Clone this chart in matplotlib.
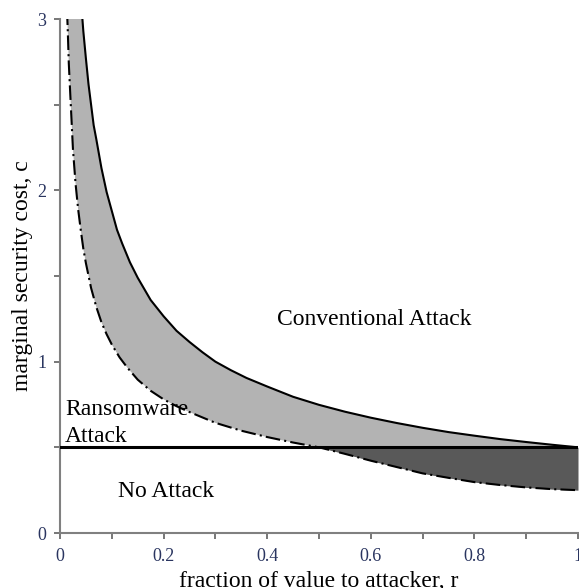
import numpy as np
import matplotlib
matplotlib.use("Agg")
import matplotlib.pyplot as plt
from matplotlib.ticker import MultipleLocator

plt.rcParams['font.family'] = ['Liberation Serif', 'DejaVu Serif']

# upper boundary (solid): conventional attack threshold
upper_r = [0.040, 0.045, 0.05, 0.055, 0.06, 0.065, 0.07, 0.08, 0.09, 0.10, 0.11, 0.12,
           0.135, 0.15, 0.175, 0.20, 0.225, 0.25, 0.275, 0.30, 0.33, 0.36, 0.40,
           0.45, 0.50, 0.55, 0.60, 0.65, 0.70, 0.75, 0.80, 0.85, 0.90, 0.95, 1.00]
upper_c = [3.13, 2.93, 2.77, 2.62, 2.50, 2.38, 2.30, 2.13, 1.99, 1.88, 1.77, 1.69,
           1.58, 1.49, 1.36, 1.265, 1.18, 1.115, 1.055, 1.00, 0.95, 0.905, 0.855,
           0.795, 0.748, 0.708, 0.673, 0.642, 0.614, 0.589, 0.568, 0.548, 0.531, 0.515, 0.50]

# lower boundary (dash-dot): ransomware threshold
lower_r = [0.0135, 0.0148, 0.017, 0.02, 0.025, 0.03, 0.035, 0.04, 0.045, 0.05, 0.06,
           0.07, 0.08, 0.09, 0.10, 0.115, 0.13, 0.15, 0.175, 0.20, 0.225, 0.25, 0.30,
           0.35, 0.40, 0.45, 0.50, 0.55, 0.60, 0.65, 0.70, 0.75, 0.80, 0.85, 0.90,
           0.95, 1.00]
lower_c = [3.05, 2.95, 2.74, 2.55, 2.24, 2.04, 1.89, 1.77, 1.66, 1.575, 1.43,
           1.32, 1.23, 1.16, 1.10, 1.025, 0.965, 0.895, 0.83, 0.78, 0.74, 0.706, 0.643,
           0.597, 0.56, 0.528, 0.50, 0.462, 0.422, 0.385, 0.348, 0.322, 0.297, 0.280, 0.266,
           0.256, 0.25]

no_attack_level = 0.5

fig = plt.figure(figsize=(5.79, 5.88), dpi=100)
ax = fig.add_axes([60 / 579, 55 / 588, 518 / 579, 514 / 588])

# light band between the two curves
poly_r = upper_r + lower_r[::-1]
poly_c = upper_c + lower_c[::-1]
ax.fill(poly_r, poly_c, color='#b3b3b3', lw=0, zorder=1)

# dark band below the no-attack line
lr = np.array(lower_r)
lc = np.array(lower_c)
ax.fill_between(lr, lc, no_attack_level, where=lc < no_attack_level,
                interpolate=True, color='#595959', lw=0, zorder=2)

ax.plot(upper_r, upper_c, color='black', lw=1.5, zorder=3)
ax.plot(lower_r, lower_c, color='black', lw=1.5, linestyle=(0, (7, 2, 1, 2)), zorder=3)
ax.plot([0, 1], [no_attack_level, no_attack_level], color='black', lw=2.2, zorder=4)

fs = 17
ax.text(0.419, 1.214, 'Conventional Attack', fontsize=fs, ha='left', va='baseline')
ax.text(0.0097, 0.689, 'Ransomware', fontsize=fs, ha='left', va='baseline')
ax.text(0.0097, 0.531, 'Attack', fontsize=fs, ha='left', va='baseline')
ax.text(0.112, 0.21, 'No Attack', fontsize=fs, ha='left', va='baseline')

ax.set_xlim(0, 1)
ax.set_ylim(0, 3)
ax.xaxis.set_major_locator(MultipleLocator(0.2))
ax.xaxis.set_minor_locator(MultipleLocator(0.1))
ax.yaxis.set_major_locator(MultipleLocator(1))
ax.yaxis.set_minor_locator(MultipleLocator(0.5))
ax.xaxis.set_major_formatter(plt.FuncFormatter(lambda v, p: '%g' % round(v, 1)))

for s in ['top', 'right']:
    ax.spines[s].set_visible(False)
for s in ['left', 'bottom']:
    ax.spines[s].set_color('#808080')
    ax.spines[s].set_linewidth(1.5)

ax.tick_params(which='both', direction='out', color='#606060', labelcolor='#2a3560',
               labelsize=13)
ax.tick_params(which='major', length=4, width=1.2)
ax.tick_params(which='minor', length=4, width=1.2)
ax.tick_params(axis='x', which='major', pad=7)
ax.tick_params(axis='y', which='major', pad=6)

ax.set_xlabel('fraction of value to attacker, r', fontsize=fs)
ax.set_ylabel('marginal security cost, c', fontsize=fs)
ax.xaxis.set_label_coords(0.5, -0.074)
ax.yaxis.set_label_coords(-0.052, 0.5)

fig.savefig('out.png', dpi=100)
